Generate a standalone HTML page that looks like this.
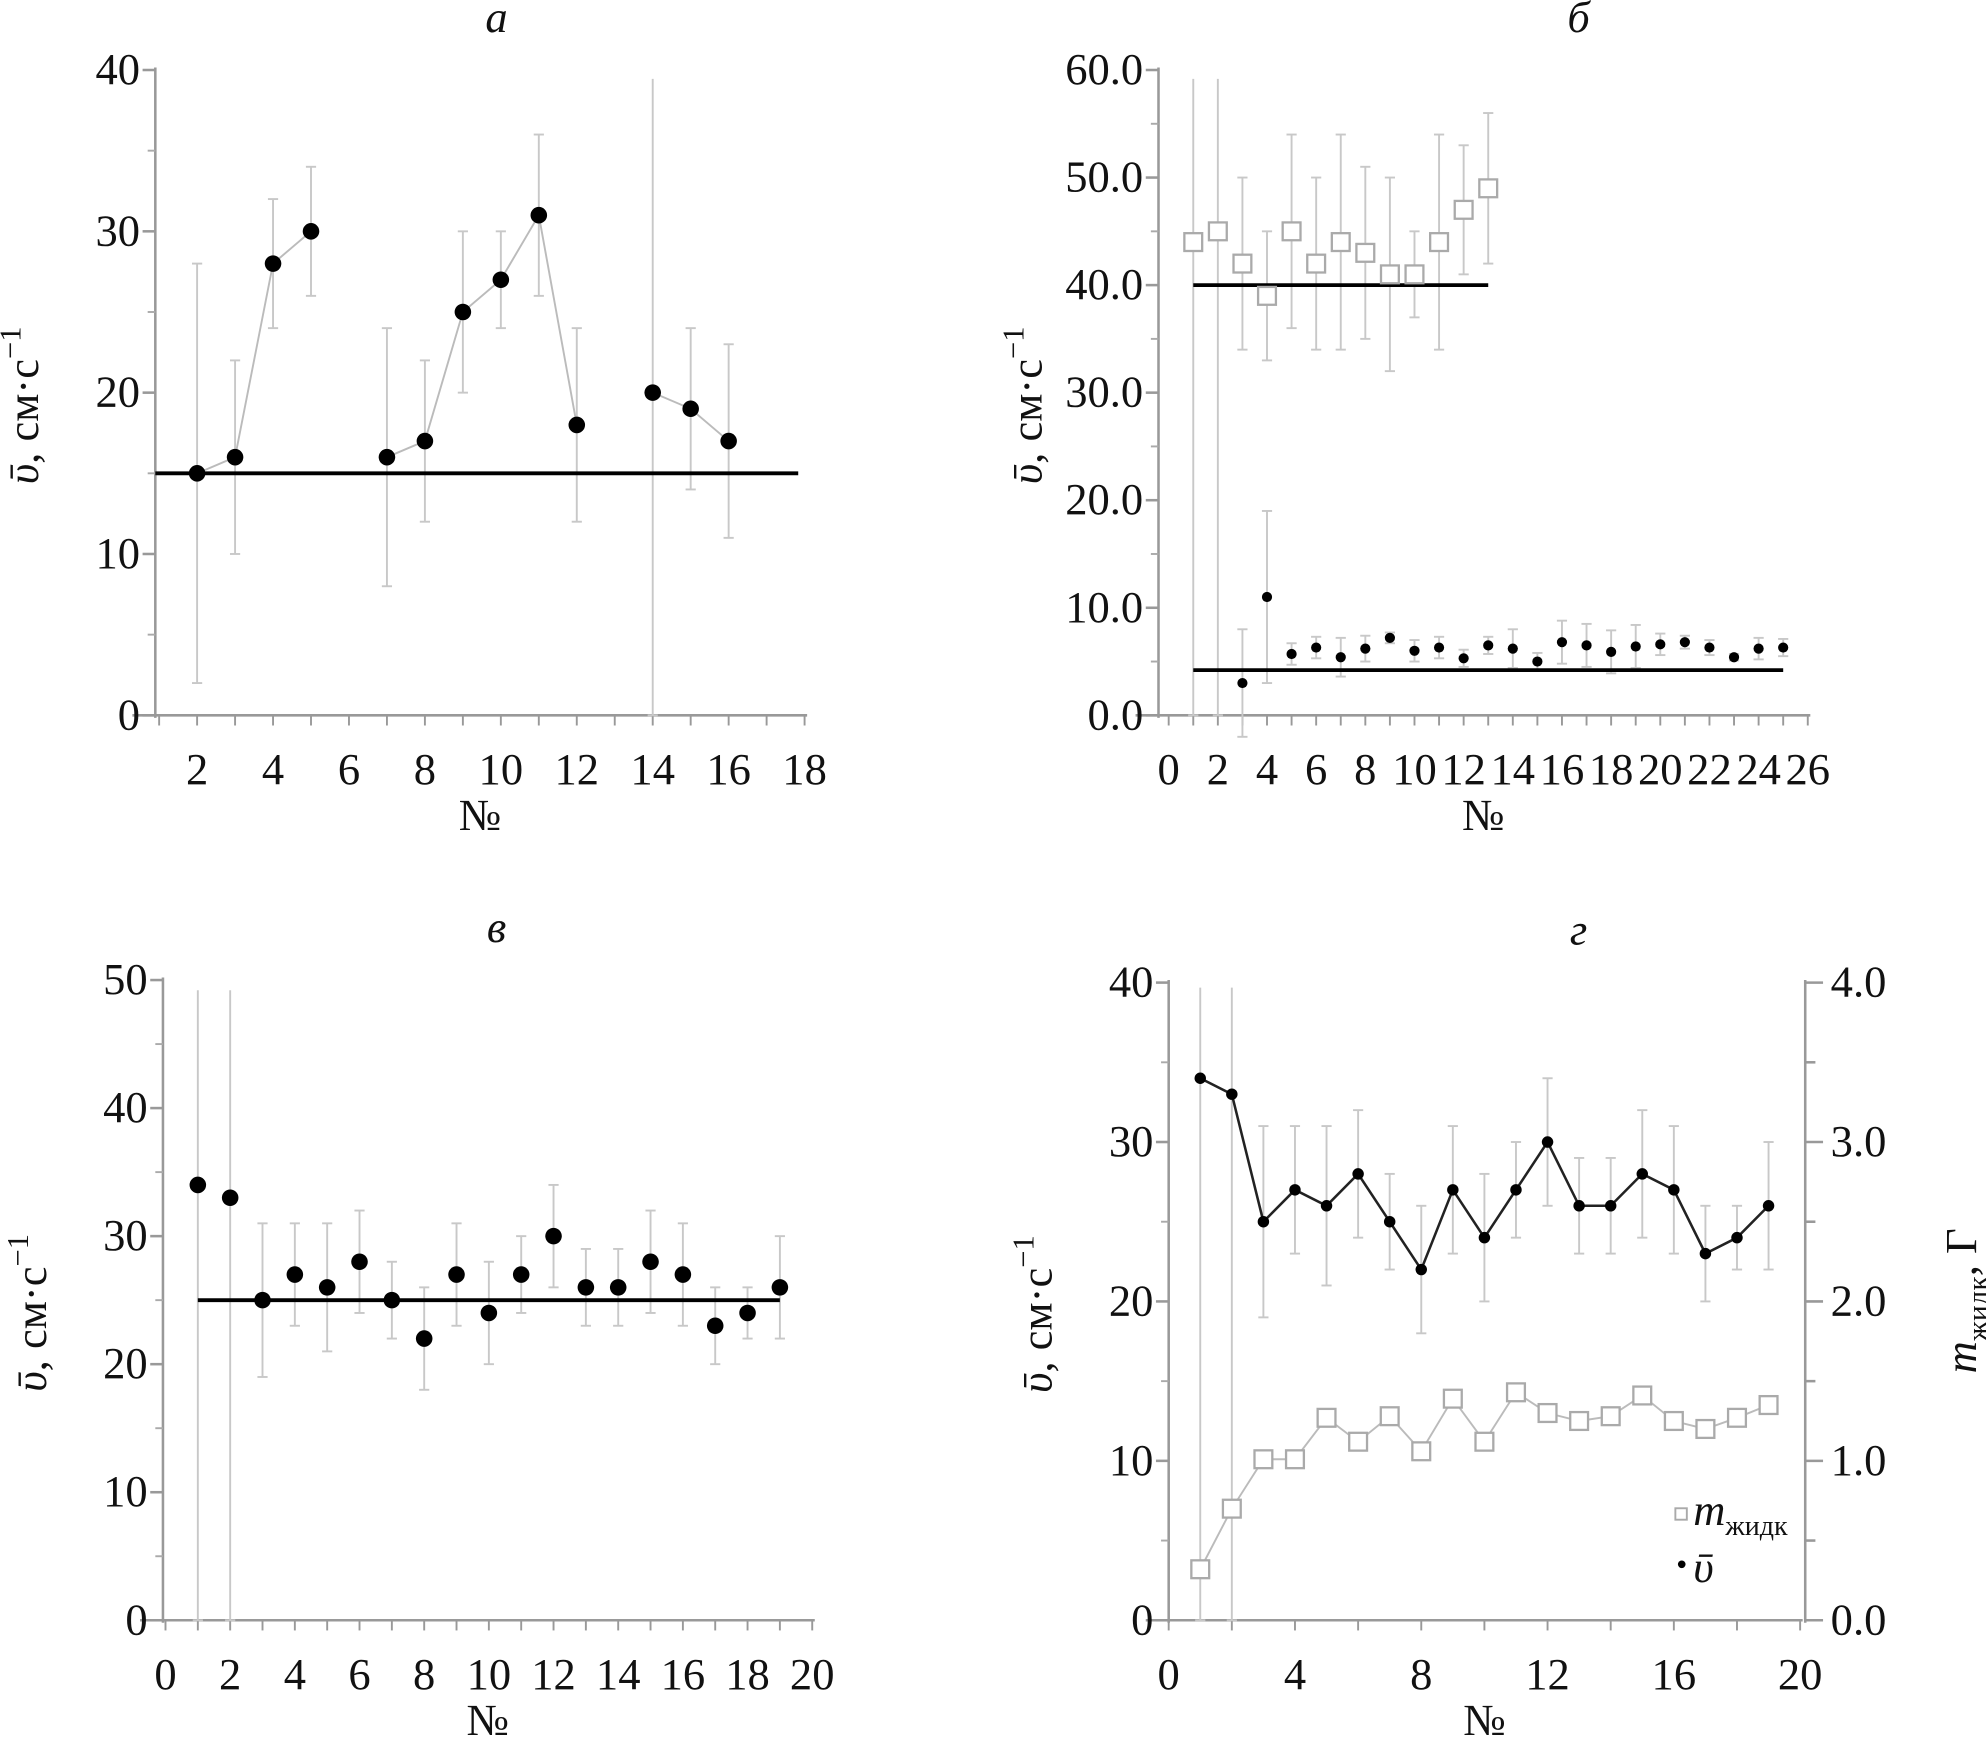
<!DOCTYPE html>
<html><head><meta charset="utf-8">
<style>
html,body{margin:0;padding:0;background:#fff}
svg{display:block}
text{font-family:"Liberation Serif",serif;fill:#111}
</style></head>
<body>
<svg id="fig" width="1986" height="1759" viewBox="0 0 1560 1382" preserveAspectRatio="none" xmlns="http://www.w3.org/2000/svg"></svg>
<script>
// ---- data: panel a ----
const aX=[2,3,4,5,7,8,9,10,11,12,14,15,16];
const aV=[15,16,28,30,16,17,25,27,31,18,20,19,17];
const aLo=[2,10,24,26,8,12,20,24,26,12,0,14,11];
const aHi=[28,22,32,34,24,22,30,30,36,24,40,24,23];
const aGroups=[[0,1,2,3],[4,5,6,7,8,9],[10,11,12]];
const aRef=15;
// ---- data: panel b ----
const bSqX=[1,2,3,4,5,6,7,8,9,10,11,12,13];
const bSqV=[44,45,42,39,45,42,44,43,41,41,44,47,49];
const bSqLo=[0,0,34,33,36,34,34,35,32,37,34,41,42];
const bSqHi=[60,60,50,45,54,50,54,51,50,45,54,53,56];
const bDotX=[3,4,5,6,7,8,9,10,11,12,13,14,15,16,17,18,19,20,21,22,23,24,25];
const bDotV=[3,11,5.7,6.3,5.4,6.2,7.2,6,6.3,5.3,6.5,6.2,5,6.8,6.5,5.9,6.4,6.6,6.8,6.3,5.4,6.2,6.3];
const bDotErr=[5,8,1,1,1.8,1.2,0.5,1,1,0.8,0.8,1.8,0.8,2,2,2,2,1,0.6,0.7,0.3,1,0.8];
const bRef1=40, bRef2=4.2;
// ---- data: panels c & d ----
const cX=[1,2,3,4,5,6,7,8,9,10,11,12,13,14,15,16,17,18,19];
const cV=[34,33,25,27,26,28,25,22,27,24,27,30,26,26,28,27,23,24,26];
const cLo=[0,0,19,23,21,24,22,18,23,20,24,26,23,23,24,23,20,22,22];
const cHi=[50,50,31,31,31,32,28,26,31,28,30,34,29,29,32,31,26,26,30];
const cRef=25;
const dM=[0.32,0.7,1.01,1.01,1.27,1.12,1.28,1.06,1.39,1.12,1.43,1.3,1.25,1.28,1.41,1.25,1.2,1.27,1.35];

const svg=document.getElementById('fig');
const NS='http://www.w3.org/2000/svg';
const FS=35;
function el(tag,attrs,parent,text){const e=document.createElementNS(NS,tag);for(const k in attrs)e.setAttribute(k,attrs[k]);if(text!==undefined)e.textContent=text;(parent||svg).appendChild(e);return e;}
function grp(name){const g=el('g',{});


return g;}

function panel(cfg){
  const g=grp(cfg.name);
  const sx=v=>cfg.x0+(v-cfg.xmin)*(cfg.x1-cfg.x0)/(cfg.xmax-cfg.xmin);
  const sy=v=>cfg.y0-(v-cfg.ymin)*(cfg.y0-cfg.y1)/(cfg.ymax-cfg.ymin);
  const ax=grp(cfg.name+'-axes');g.appendChild(ax);
  el('line',{x1:cfg.ax,y1:cfg.y1-2,x2:cfg.ax,y2:cfg.y0+2,stroke:'#999','stroke-width':2},ax);
  el('line',{x1:cfg.ax-18,y1:cfg.y0,x2:cfg.x1+2,y2:cfg.y0,stroke:'#999','stroke-width':2},ax);
  for(let i=0;i<cfg.yticks.length;i++){const v=cfg.yticks[i];const y=sy(v);
    el('line',{x1:cfg.ax-10,y1:y,x2:cfg.ax,y2:y,stroke:'#999','stroke-width':2},ax);
    const t=el('text',{x:cfg.ax-12,y:y+11,'text-anchor':'end','font-size':FS},ax,cfg.ylabels[i]);
    
    
    if(i<cfg.yticks.length-1){const ym=sy((v+cfg.yticks[i+1])/2);el('line',{x1:cfg.ax-6,y1:ym,x2:cfg.ax,y2:ym,stroke:'#aaa','stroke-width':1.5},ax);}
  }
  for(let v=cfg.xmin;v<=cfg.xmax;v+=cfg.xminor){const x=sx(v);el('line',{x1:x,y1:cfg.y0,x2:x,y2:cfg.y0+8,stroke:'#999','stroke-width':1.5},ax);}
  for(const v of cfg.xticks){const x=sx(v);
    const t=el('text',{x:x,y:cfg.y0+54,'text-anchor':'middle','font-size':FS},ax,String(v));
    
    }
  const xt=el('text',{x:(cfg.ax+cfg.x1)/2,y:cfg.y0+90,'text-anchor':'middle','font-size':FS},g,'№');
  
  
  const tt=el('text',{x:cfg.titleX,y:cfg.y1-30,'text-anchor':'middle','font-size':FS,'font-style':'italic'},g,cfg.title);
  
  
  const yl=el('text',{transform:`translate(${cfg.ax-92},${(cfg.y0+cfg.y1)/2+10}) rotate(-90)`,'text-anchor':'middle','font-size':FS},g);
  
  
  el('tspan',{'font-style':'italic'},yl,'ῡ');
  el('tspan',{},yl,', см·с');
  el('tspan',{dy:-14,'font-size':24},yl,'−1');
  return {g,sx,sy};
}
function errbar(g,x,ylo,yhi,color,capTop){el('line',{x1:x,y1:ylo,x2:x,y2:yhi,stroke:color,'stroke-width':1.5},g);
  el('line',{x1:x-4,y1:ylo,x2:x+4,y2:ylo,stroke:color,'stroke-width':1.5},g);
  if(capTop!==false)el('line',{x1:x-4,y1:yhi,x2:x+4,y2:yhi,stroke:color,'stroke-width':1.5},g);}
function dot(g,x,y,r){const c=el('circle',{cx:x,cy:y,r:r,fill:'#000'},g);
  
  }
function sq(g,x,y){const r=el('rect',{x:x-7,y:y-7,width:14,height:14,fill:'#fff',stroke:'#aaa','stroke-width':1.8},g);
  
  }

// Panel a
(function(){
  const P=panel({name:'panel-a',title:'а',titleX:390,ax:122,x0:125,x1:632,xmin:1,xmax:18,xminor:1,y0:562,y1:55,ymin:0,ymax:40,
    yticks:[0,10,20,30,40],ylabels:['0','10','20','30','40'],xticks:[2,4,6,8,10,12,14,16,18]});
  const g=P.g;
  for(let i=0;i<aX.length;i++){const full=aHi[i]>=40;errbar(g,P.sx(aX[i]),P.sy(aLo[i]),full?62:P.sy(aHi[i]),'#c8c8c8',!full);}
  for(const gr of aGroups){const pts=gr.map(i=>P.sx(aX[i])+','+P.sy(aV[i])).join(' ');el('polyline',{points:pts,fill:'none',stroke:'#bbb','stroke-width':1.5},g);}
  const r=el('line',{x1:122,y1:P.sy(aRef),x2:627,y2:P.sy(aRef),stroke:'#000','stroke-width':3},g);
  
  
  for(let i=0;i<aX.length;i++)dot(g,P.sx(aX[i]),P.sy(aV[i]),6.5);
})();
// Panel b
(function(){
  const P=panel({name:'panel-b',title:'б',titleX:1240,ax:910,x0:918,x1:1420,xmin:0,xmax:26,xminor:1,y0:562,y1:55,ymin:0,ymax:60,
    yticks:[0,10,20,30,40,50,60],ylabels:['0.0','10.0','20.0','30.0','40.0','50.0','60.0'],xticks:[0,2,4,6,8,10,12,14,16,18,20,22,24,26]});
  const g=P.g;
  for(let i=0;i<bSqX.length;i++){const full=bSqHi[i]>=60;errbar(g,P.sx(bSqX[i]),full?562:P.sy(bSqLo[i]),full?62:P.sy(bSqHi[i]),'#c8c8c8',!full);}
  for(let i=0;i<bDotX.length;i++)errbar(g,P.sx(bDotX[i]),P.sy(bDotV[i]-bDotErr[i]),P.sy(bDotV[i]+bDotErr[i]),'#c8c8c8');
  el('line',{x1:P.sx(1),y1:P.sy(bRef1),x2:P.sx(13),y2:P.sy(bRef1),stroke:'#000','stroke-width':3},g);
  el('line',{x1:P.sx(1),y1:P.sy(bRef2),x2:P.sx(25),y2:P.sy(bRef2),stroke:'#000','stroke-width':3},g);
  for(let i=0;i<bSqX.length;i++)sq(g,P.sx(bSqX[i]),P.sy(bSqV[i]));
  for(let i=0;i<bDotX.length;i++)dot(g,P.sx(bDotX[i]),P.sy(bDotV[i]),4);
})();
// Panel c
(function(){
  const P=panel({name:'panel-c',title:'в',titleX:390,ax:128,x0:130,x1:638,xmin:0,xmax:20,xminor:1,y0:1273,y1:770,ymin:0,ymax:50,
    yticks:[0,10,20,30,40,50],ylabels:['0','10','20','30','40','50'],xticks:[0,2,4,6,8,10,12,14,16,18,20]});
  const g=P.g;
  for(let i=0;i<cX.length;i++){const full=cHi[i]>=50;errbar(g,P.sx(cX[i]),full?1273:P.sy(cLo[i]),full?778:P.sy(cHi[i]),'#c8c8c8',!full);}
  el('line',{x1:P.sx(1),y1:P.sy(cRef),x2:P.sx(19),y2:P.sy(cRef),stroke:'#000','stroke-width':3},g);
  for(let i=0;i<cX.length;i++)dot(g,P.sx(cX[i]),P.sy(cV[i]),6.5);
})();
// Panel d
(function(){
  const P=panel({name:'panel-d',title:'г',titleX:1240,ax:918,x0:918,x1:1414,xmin:0,xmax:20,xminor:2,y0:1273,y1:772,ymin:0,ymax:40,
    yticks:[0,10,20,30,40],ylabels:['0','10','20','30','40'],xticks:[0,4,8,12,16,20]});
  const g=P.g;
  const sy2=v=>P.sy(v*10);
  el('line',{x1:1418,y1:770,x2:1418,y2:1275,stroke:'#999','stroke-width':2},g);
  for(let v=0;v<=4;v+=0.5){const y=sy2(v);el('line',{x1:1418,y1:y,x2:v%1===0?1432:1426,y2:y,stroke:'#999','stroke-width':2},g);
    if(v%1===0){const t=el('text',{x:1438,y:y+11,'font-size':FS},g,v.toFixed(1));
      
      }}
  const rl=el('text',{transform:'translate(1552,1022) rotate(-90)','text-anchor':'middle','font-size':FS},g);
  
  
  el('tspan',{'font-style':'italic'},rl,'m');
  el('tspan',{dy:9,'font-size':23},rl,'жидк');
  el('tspan',{dy:-9},rl,', Г');
  for(let i=0;i<cX.length;i++){const full=cHi[i]>=40;errbar(g,P.sx(cX[i]),full?1273:P.sy(cLo[i]),full?776:P.sy(cHi[i]),'#c8c8c8',!full);}
  el('polyline',{points:cX.map((x,i)=>P.sx(x)+','+sy2(dM[i])).join(' '),fill:'none',stroke:'#bbb','stroke-width':1.5},g);
  for(let i=0;i<cX.length;i++)sq(g,P.sx(cX[i]),sy2(dM[i]));
  el('polyline',{points:cX.map((x,i)=>P.sx(x)+','+P.sy(cV[i])).join(' '),fill:'none',stroke:'#222','stroke-width':2},g);
  for(let i=0;i<cX.length;i++)dot(g,P.sx(cX[i]),P.sy(cV[i]),4.5);
  const lg=grp('legend');g.appendChild(lg);
  el('rect',{x:1316,y:1185,width:9,height:9,fill:'#fff',stroke:'#aaa','stroke-width':1.5},lg);
  const t1=el('text',{x:1330,y:1198,'font-size':FS,'font-style':'italic'},lg,'m');
  el('tspan',{dy:8,'font-size':22,'font-style':'normal'},t1,'жидк');
  el('circle',{cx:1321,cy:1229,r:3,fill:'#000'},lg);
  el('text',{x:1330,y:1243,'font-size':FS,'font-style':'italic'},lg,'ῡ');
})();
</script>
</body></html>
